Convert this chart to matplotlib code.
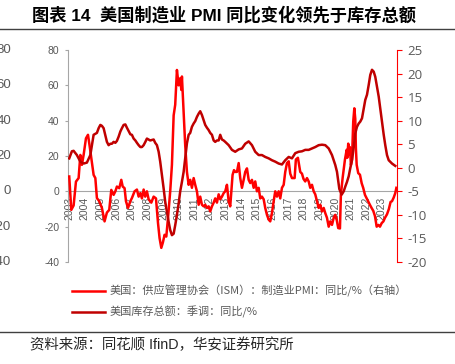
import matplotlib
matplotlib.use("Agg")
import matplotlib.pyplot as plt
from matplotlib.lines import Line2D

# ---------------- data ----------------
pmi_t = [2003.00, 2003.13, 2003.28, 2003.43, 2003.60, 2003.71, 2003.81, 2003.92, 2004.07, 2004.20,
         2004.30, 2004.41, 2004.56, 2004.67, 2004.77, 2004.92, 2005.09, 2005.26, 2005.41, 2005.56,
         2005.69, 2005.84, 2005.95, 2006.05, 2006.20, 2006.33, 2006.42, 2006.54, 2006.63, 2006.76,
         2006.91, 2007.01, 2007.18, 2007.33, 2007.44, 2007.55, 2007.65, 2007.76, 2007.86, 2007.97,
         2008.08, 2008.25, 2008.40, 2008.55, 2008.68, 2008.78, 2008.89, 2008.99, 2009.10, 2009.21,
         2009.32, 2009.46, 2009.57, 2009.68, 2009.78, 2009.89, 2010.00, 2010.10, 2010.17, 2010.21,
         2010.32, 2010.42, 2010.53, 2010.64, 2010.74, 2010.85, 2010.96, 2011.06, 2011.17, 2011.28,
         2011.38, 2011.49, 2011.60, 2011.70, 2011.81, 2011.92, 2012.02, 2012.13, 2012.24, 2012.34,
         2012.45, 2012.56, 2012.66, 2012.77, 2012.88, 2012.98, 2013.09, 2013.20, 2013.30, 2013.45,
         2013.54, 2013.62, 2013.73, 2013.84, 2013.94, 2014.05, 2014.16, 2014.26, 2014.37, 2014.48,
         2014.58, 2014.69, 2014.80, 2014.90, 2015.01, 2015.12, 2015.22, 2015.33, 2015.44, 2015.54,
         2015.65, 2015.76, 2015.86, 2015.97, 2016.08, 2016.18, 2016.29, 2016.40, 2016.50, 2016.61,
         2016.72, 2016.82, 2016.93, 2017.04, 2017.14, 2017.25, 2017.42, 2017.50, 2017.63, 2017.78,
         2017.89, 2017.99, 2018.10, 2018.21, 2018.32, 2018.42, 2018.53, 2018.64, 2018.74, 2018.85,
         2018.96, 2019.06, 2019.17, 2019.28, 2019.38, 2019.49, 2019.60, 2019.70, 2019.81, 2019.92,
         2020.02, 2020.11, 2020.21, 2020.32, 2020.38, 2020.49, 2020.58, 2020.64, 2020.75, 2020.79,
         2020.85, 2020.92, 2020.96, 2021.02, 2021.09, 2021.17, 2021.24, 2021.30, 2021.34, 2021.39,
         2021.49, 2021.60, 2021.71, 2021.81, 2021.92, 2022.03, 2022.13, 2022.24, 2022.35, 2022.45,
         2022.56, 2022.67, 2022.78, 2022.88, 2022.99, 2023.10, 2023.20, 2023.33, 2023.45, 2023.56,
         2023.65, 2023.76, 2023.86, 2023.93]
pmi_v = [8.4, -10.5, -8.0, 5.5, 7.5, 20.6, 15.0, 20.6, 30.0, 32.0,
         26.0, 18.8, 9.3, 7.5, -3.8, -5.6, -9.4, -17.0, -12.0, -10.5,
         0.8, -2.0, 0.0, 2.7, 1.8, 6.5, 2.7, 1.8, -5.6, -9.4,
         -5.6, -3.8, 0.0, 1.0, -3.0, -1.0, -4.0, 1.0, -3.0, 0.0,
         -4.5, -6.4, -3.0, -4.0, -18.0, -26.5, -32.0, -29.0, -24.6, -25.6,
         -15.0, 0.0, 15.0, 43.0, 49.0, 68.7, 60.0, 64.0, 57.4, 65.0,
         45.0, 26.0, 11.0, 3.7, 6.5, 2.0, 7.5, 3.7, 0.0, -7.6,
         -3.0, -7.6, -8.5, -7.6, -9.4, -8.5, -11.4, -8.5, -6.4, -4.0,
         -6.4, -1.7, -4.5, -3.0, -1.0, 0.0, 3.7, -5.6, -8.5, 9.3,
         12.0, 11.0, 11.0, 16.0, 7.5, 2.0, 6.5, 11.0, 13.0, 6.5,
         4.7, 6.5, 2.0, 5.6, 0.0, 2.0, -4.0, -3.0, -4.5, -9.4,
         -13.3, -16.0, -17.0, -12.3, -5.6, 0.0, -3.0, 0.0, -4.0, 2.0,
         3.7, 11.0, 16.0, 17.0, 10.0, 7.5, 7.5, 18.0, 19.0, 11.0,
         10.0, 7.0, 5.6, 7.5, 5.6, 2.0, 3.7, 0.0, -1.7, -5.6,
         -9.4, -7.6, -11.4, -9.4, -12.3, -15.0, -20.0, -17.0, -19.0, -15.0,
         -13.3, -16.0, -20.8, -21.0, -2.0, 7.5, 14.0, 18.0, 23.5, 19.0,
         27.0, 21.0, 25.0, 15.0, 18.0, 39.5, 47.0, 41.0, 24.4, 15.0,
         10.3, 9.4, 4.6, 1.9, -2.0, -4.0, -5.8, -7.7, -9.5, -11.0,
         -14.0, -20.0, -19.0, -20.0, -18.0, -17.0, -15.0, -13.0, -10.0, -6.0,
         -5.6, -3.5, -1.0, 2.0]

inv_t = [2003.00, 2003.17, 2003.28, 2003.49, 2003.71, 2003.92, 2004.13, 2004.35, 2004.45, 2004.56,
         2004.67, 2004.77, 2004.88, 2004.99, 2005.09, 2005.20, 2005.30, 2005.41, 2005.52, 2005.63,
         2005.73, 2005.84, 2005.95, 2006.05, 2006.16, 2006.27, 2006.37, 2006.48, 2006.59, 2006.69,
         2006.80, 2006.91, 2007.01, 2007.12, 2007.23, 2007.33, 2007.44, 2007.55, 2007.65, 2007.76,
         2007.87, 2007.97, 2008.18, 2008.40, 2008.50, 2008.61, 2008.72, 2008.82, 2008.93, 2009.04,
         2009.14, 2009.25, 2009.36, 2009.46, 2009.57, 2009.68, 2009.78, 2009.89, 2010.00, 2010.10,
         2010.21, 2010.32, 2010.42, 2010.53, 2010.64, 2010.74, 2010.85, 2010.96, 2011.06, 2011.17,
         2011.28, 2011.38, 2011.49, 2011.60, 2011.70, 2011.81, 2011.92, 2012.02, 2012.13, 2012.24,
         2012.34, 2012.45, 2012.56, 2012.66, 2012.77, 2012.88, 2012.98, 2013.20, 2013.41, 2013.62,
         2013.84, 2014.05, 2014.26, 2014.48, 2014.69, 2014.90, 2015.12, 2015.33, 2015.54, 2015.76,
         2015.97, 2016.18, 2016.40, 2016.61, 2016.82, 2017.04, 2017.25, 2017.46, 2017.68, 2017.89,
         2018.10, 2018.32, 2018.53, 2018.74, 2018.96, 2019.17, 2019.38, 2019.60, 2019.81, 2020.02,
         2020.13, 2020.28, 2020.43, 2020.56, 2020.66, 2020.77, 2020.88, 2020.98, 2021.09, 2021.20,
         2021.30, 2021.41, 2021.52, 2021.62, 2021.73, 2021.84, 2021.94, 2022.05, 2022.16, 2022.26,
         2022.37, 2022.48, 2022.58, 2022.69, 2022.80, 2022.90, 2023.01, 2023.12, 2023.22, 2023.33,
         2023.44, 2023.65, 2023.86]
inv_v = [2.0, 3.5, 3.6, 2.7, 1.3, 0.9, 1.1, 2.7, 4.8, 7.0,
         7.2, 7.4, 8.4, 9.1, 8.9, 8.4, 7.0, 5.5, 4.8, 5.1,
         5.1, 5.5, 5.3, 5.7, 6.6, 7.7, 8.4, 9.1, 9.2, 8.5,
         7.8, 7.1, 7.0, 6.2, 5.8, 5.3, 4.8, 4.4, 4.4, 4.8,
         5.5, 6.2, 5.8, 6.0, 5.3, 4.8, 3.4, 1.3, -1.5, -4.4,
         -7.2, -9.4, -11.5, -13.2, -14.3, -14.0, -12.2, -10.0, -7.6, -5.0,
         -3.0, -0.85, 2.0, 5.2, 7.0, 7.4, 8.7, 9.4, 9.9, 10.8,
         11.5, 12.0, 11.2, 10.1, 9.1, 8.5, 8.0, 7.4, 7.0, 5.8,
         5.5, 5.8, 5.8, 7.0, 6.0, 5.8, 5.5, 4.8, 3.8, 3.4,
         3.9, 4.1, 5.1, 5.6, 4.8, 3.4, 2.7, 2.7, 2.3, 2.0,
         1.6, 1.3, 0.9, 0.7, 1.6, 2.3, 2.0, 3.1, 3.4, 3.5,
         3.8, 3.8, 4.1, 4.4, 4.8, 4.9, 4.8, 4.1, 2.7, 0.6,
         -0.85, -4.5, -5.7, -5.0, -4.0, -3.0, -1.8, -0.1, 1.6, 4.3,
         7.3, 8.7, 9.4, 9.8, 10.5, 12.6, 14.4, 15.5, 17.6, 19.7,
         20.8, 20.4, 19.3, 17.2, 15.1, 12.6, 9.8, 7.0, 4.8, 2.7,
         1.6, 0.9, 0.4]

years = list(range(2003, 2024))
year_labels = [str(y) for y in years]
left_ticks = [-40, -20, 0, 20, 40, 60, 80]
right_ticks = [-20, -15, -10, -5, 0, 5, 10, 15, 20, 25]
cut_labels = ["80", "60", "40", "20", "0", "-20", "-40"]

title = "图表 14  美国制造业 PMI 同比变化领先于库存总额"
legend_labels = ["美国：供应管理协会（ISM）：制造业PMI：同比/%（右轴）",
                 "美国库存总额：季调：同比/%"]
source = "资料来源：同花顺 IfinD，华安证券研究所"

BRIGHT = "#FF0000"
DARK = "#C00000"
GRAY_TXT = "#595959"
GRAY_AX = "#A6A6A6"
CJK = ["Liberation Sans", "Noto Sans CJK SC"]

W, H = 456, 364
fig = plt.figure(figsize=(W / 100, H / 100), dpi=100)
fig.patch.set_facecolor("white")

def fx(px):
    return px / W

def fy(py):
    return 1 - py / H

ax = fig.add_axes([fx(68.3), fy(262), fx(397) - fx(68.3), fy(50) - fy(262)])
ax2 = ax.twinx()

ax.plot(pmi_t, pmi_v, color=BRIGHT, lw=1.8, solid_joinstyle="round", zorder=3)
ax2.plot(inv_t, inv_v, color=DARK, lw=1.8, solid_joinstyle="round", zorder=2)

ax.set_xlim(2002.94, 2023.97)
ax.set_ylim(-40, 80)
ax2.set_ylim(-20, 25)

for a in (ax, ax2):
    a.spines["top"].set_visible(False)
    a.patch.set_visible(False)
ax.spines["right"].set_visible(False)
ax2.spines["left"].set_visible(False)
ax2.spines["bottom"].set_visible(False)
ax.spines["left"].set_color(GRAY_AX)
ax.spines["bottom"].set_color(GRAY_AX)
ax.spines["bottom"].set_position(("data", 0))
ax2.spines["right"].set_color(BRIGHT)

ax.set_yticks(left_ticks)
ax.set_yticklabels([str(v) for v in left_ticks], fontfamily="Liberation Sans", fontsize=7.5, color=GRAY_TXT)
ax.tick_params(axis="y", length=2.5, width=0.8, color=GRAY_AX, pad=4)

ax2.set_yticks(right_ticks)
ax2.set_yticklabels([str(v) for v in right_ticks], fontfamily="Open Sans", fontsize=9.5, color=GRAY_TXT)
ax2.tick_params(axis="y", length=3.5, width=0.8, color=BRIGHT, pad=4)

ax.set_xticks(years)
ax.set_xticklabels(year_labels, rotation=90, fontfamily="Liberation Sans", fontsize=7.5, color=GRAY_TXT)
ax.tick_params(axis="x", length=0, pad=4)

# cut-off axis labels of the neighbouring chart on the left edge
for lab, v in zip(cut_labels, left_ticks[::-1]):
    yy = ax.transData.transform((2003, v))[1]
    fig.text(fx(11), yy / H, lab, ha="right", va="center", fontfamily="Liberation Sans",
             fontsize=9.5, color=GRAY_TXT)

fig.text(fx(32), fy(15), title, ha="left", va="center", fontsize=12.4, fontweight="bold",
         family=CJK, color="#000000")
fig.add_artist(Line2D([0, 1], [fy(29), fy(29)], color="#404040", lw=1.0))

for i, (lab, col) in enumerate(zip(legend_labels, [BRIGHT, DARK])):
    yy = fy(290.7 + 21 * i)
    fig.add_artist(Line2D([fx(72), fx(105)], [yy, yy], color=col, lw=1.8))
    fig.text(fx(110), yy, lab, ha="left", va="center", fontsize=8, family=["Noto Sans CJK SC"],
             color=GRAY_TXT)

fig.add_artist(Line2D([0, 1], [fy(331.5), fy(331.5)], color="#404040", lw=1.0))
fig.text(fx(30), fy(345), source, ha="left", va="center", fontsize=10.4, family=CJK, color="#262626")

fig.savefig("out.png", dpi=100)
